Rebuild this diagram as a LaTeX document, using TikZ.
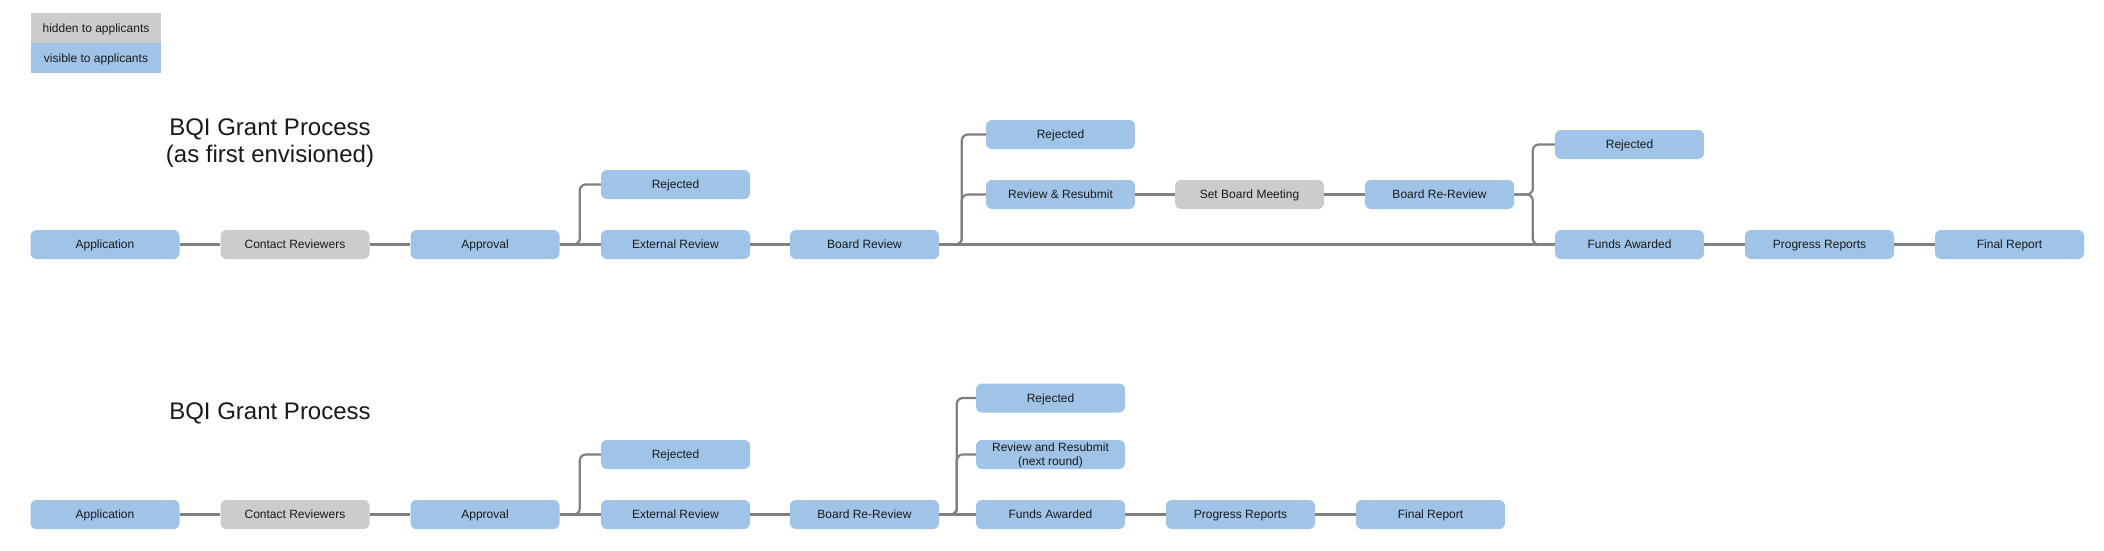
\documentclass[tikz,border=0pt]{standalone}
\usepackage{fontspec}
\setmainfont{Liberation Sans}
\usepackage{xcolor}
\usetikzlibrary{positioning, calc}

\definecolor{shownblue}{RGB}{160,196,232}
\definecolor{hiddengray}{RGB}{204,204,204}
\definecolor{linkgray}{RGB}{128,128,128}

\begin{document}
\begin{tikzpicture}[x=1pt, y=-1pt,
  stage/.style={rectangle, rounded corners=6pt, minimum width=149pt, minimum height=29pt,
    inner sep=0pt, align=center, text height=8.6pt, text depth=0pt,
    font=\fontsize{12}{14}\selectfont, text=black!90},
  shownstage/.style={stage, fill=shownblue},
  hiddenstage/.style={stage, fill=hiddengray},
  legendbox/.style={rectangle, minimum width=130pt, minimum height=30pt, inner sep=0pt,
    text height=8.6pt, text depth=0pt, font=\fontsize{12}{14}\selectfont, text=black!90},
  link/.style={draw=linkgray, line width=2.2pt},
  branch/.style={link, rounded corners=6pt},
  heading/.style={align=center, font=\fontsize{24}{27}\selectfont, text=black!90}]

\useasboundingbox (0,0) rectangle (2104,550);

% Legend
\node[legendbox, fill=hiddengray] (keyhidden) at (96,28) {hidden to applicants};
\node[legendbox, fill=shownblue] (keyvisible) at (96,58) {visible to applicants};

% First process (as first envisioned)
\node[heading] (title1) at (270,143.5) {BQI Grant Process\\(as first envisioned)};

\node[shownstage] (app1) at (105,244.5) {Application};
\node[hiddenstage] (con1) at (295,244.5) {Contact Reviewers};
\node[shownstage] (appr1) at (485,244.5) {Approval};
\node[shownstage] (rej1) at (675.5,184.5) {Rejected};
\node[shownstage] (ext1) at (675.5,244.5) {External Review};
\node[shownstage] (brd1) at (864.5,244.5) {Board Review};
\node[shownstage] (rej2) at (1060.5,134.5) {Rejected};
\node[shownstage] (resub1) at (1060.5,194.5) {Review \& Resubmit};
\node[hiddenstage] (meet1) at (1249.5,194.5) {Set Board Meeting};
\node[shownstage] (bre1) at (1439.5,194.5) {Board Re-Review};
\node[shownstage] (rej3) at (1629.5,144.5) {Rejected};
\node[shownstage] (fund1) at (1629.5,244.5) {Funds Awarded};
\node[shownstage] (prog1) at (1819.5,244.5) {Progress Reports};
\node[shownstage] (fin1) at (2009.5,244.5) {Final Report};

\draw[link] (app1) -- (con1) -- (appr1) -- (ext1) -- (brd1) -- (fund1);
\draw[branch] (appr1.east) -| ([xshift=-21pt]rej1.west) -- (rej1.west);
\draw[branch] (brd1.east) -| ([xshift=-24pt]rej2.west) -- (rej2.west);
\draw[branch] (brd1.east) -| ([xshift=-24pt]resub1.west) -- (resub1.west);
\draw[link] (resub1) -- (meet1) -- (bre1);
\draw[branch] (bre1.east) -| ([xshift=-22pt]rej3.west) -- (rej3.west);
\draw[branch] (bre1.east) -| ([xshift=-22pt]fund1.west) -- (fund1.west);
\draw[link] (fund1) -- (prog1) -- (fin1);

% Second process (current)
\node[heading] (title2) at (270,413) {BQI Grant Process};

\node[shownstage] (app2) at (105,514.5) {Application};
\node[hiddenstage] (con2) at (295,514.5) {Contact Reviewers};
\node[shownstage] (appr2) at (485,514.5) {Approval};
\node[shownstage] (rej4) at (675.5,454.5) {Rejected};
\node[shownstage] (ext2) at (675.5,514.5) {External Review};
\node[shownstage] (bre2) at (864.5,514.5) {Board Re-Review};
\node[shownstage] (rej5) at (1050.5,398) {Rejected};
\node[shownstage, text height=22.6pt] (resub2) at (1050.5,454.5) {Review and Resubmit\\(next round)};
\node[shownstage] (fund2) at (1050.5,514.5) {Funds Awarded};
\node[shownstage] (prog2) at (1240.5,514.5) {Progress Reports};
\node[shownstage] (fin2) at (1430.5,514.5) {Final Report};

\draw[link] (app2) -- (con2) -- (appr2) -- (ext2) -- (bre2) -- (fund2) -- (prog2) -- (fin2);
\draw[branch] (appr2.east) -| ([xshift=-21pt]rej4.west) -- (rej4.west);
\draw[branch] (bre2.east) -| ([xshift=-19pt]rej5.west) -- (rej5.west);
\draw[branch] (bre2.east) -| ([xshift=-19pt]resub2.west) -- (resub2.west);
\end{tikzpicture}
\end{document}
